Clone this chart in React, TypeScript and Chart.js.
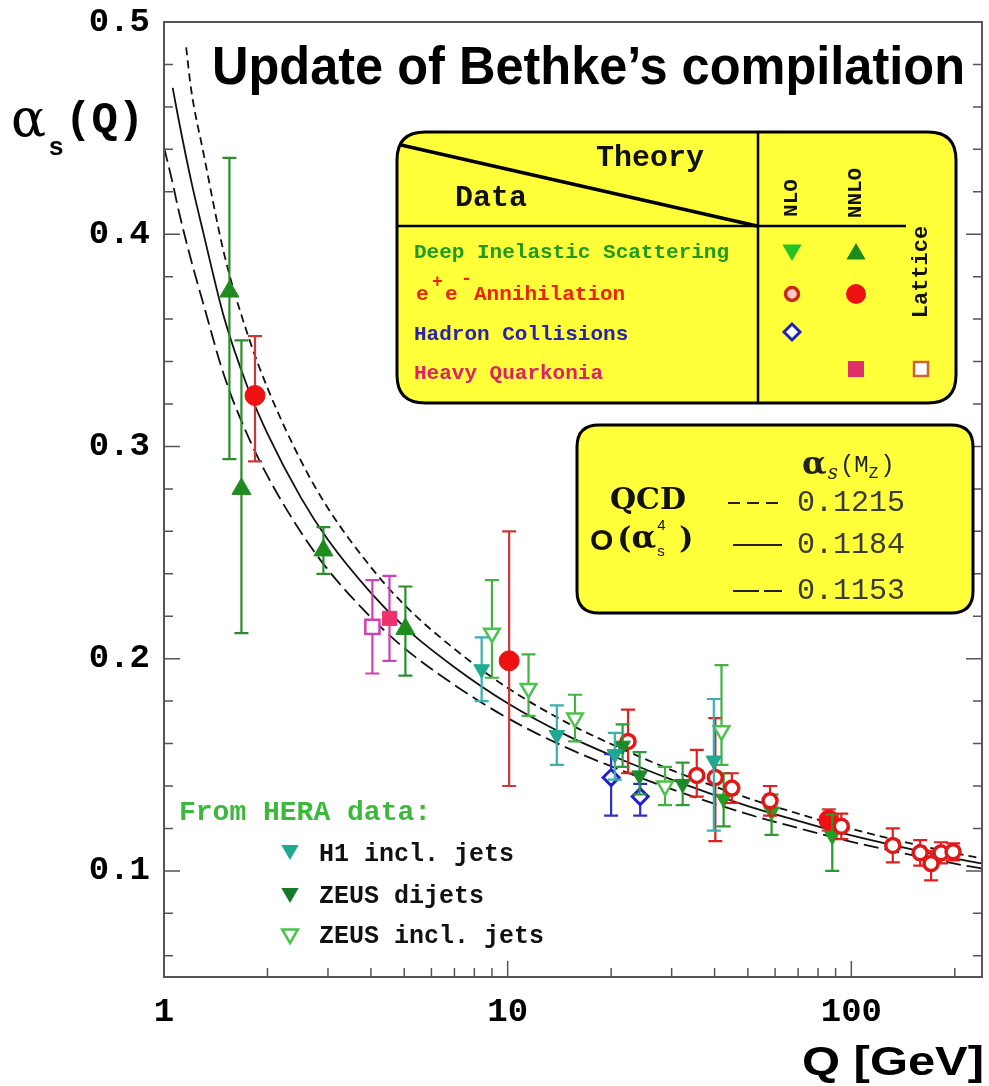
import React, { useEffect, useRef } from 'react';
import { Chart, registerables } from 'chart.js';

Chart.register(...registerables);

const W = 989;
const H = 1086;
const PLOT_TOP = 22;
const PLOT_BOTTOM = 977;
const PLOT_LEFT = 164;
const PLOT_RIGHT = 982;

// ---------- axes ----------
const X_MIN = 1;
const X_MAX = 240;
const Y_MIN = 0.05;
const Y_MAX = 0.5;
const X_TICK_VALUES = [1, 10, 100];
const X_TICK_LABELS = ['1', '10', '100'];
const Y_TICK_VALUES = [0.1, 0.2, 0.3, 0.4, 0.5];
const Y_TICK_LABELS = ['0.1', '0.2', '0.3', '0.4', '0.5'];

// ---------- data (Q [GeV], alpha_s, +err, -err) ----------
const DIS_NNLO_Q = [1.55, 1.68, 2.91, 5.04];
const DIS_NNLO_A = [0.373, 0.28, 0.251, 0.214];
const DIS_NNLO_UP = [0.063, 0.07, 0.011, 0.02];
const DIS_NNLO_DN = [0.079, 0.068, 0.011, 0.022];

const DIS_NLO_Q = [42.5, 58.6, 88.0];
const DIS_NLO_A = [0.134, 0.128, 0.1165];
const DIS_NLO_UP = [0.012, 0.008, 0.01];
const DIS_NLO_DN = [0.013, 0.011, 0.0165];

const H1_Q = [8.4, 13.9, 20.5, 39.8];
const H1_A = [0.195, 0.164, 0.155, 0.152];
const H1_UP = [0.015, 0.014, 0.01, 0.029];
const H1_DN = [0.015, 0.014, 0.012, 0.033];

const ZEUS_DIJ_Q = [21.6, 24.2, 32.3];
const ZEUS_DIJ_A = [0.159, 0.145, 0.141];
const ZEUS_DIJ_UP = [0.01, 0.011, 0.01];
const ZEUS_DIJ_DN = [0.01, 0.009, 0.01];

const ZEUS_INC_Q = [9.0, 11.5, 15.7, 28.7, 41.9];
const ZEUS_INC_A = [0.212, 0.186, 0.172, 0.14, 0.166];
const ZEUS_INC_UP = [0.025, 0.016, 0.011, 0.009, 0.031];
const ZEUS_INC_DN = [0.021, 0.013, 0.011, 0.009, 0.016];

const EE_NNLO_Q = [1.84, 10.1, 86.0];
const EE_NNLO_A = [0.324, 0.199, 0.124];
const EE_NNLO_UP = [0.028, 0.061, 0.005];
const EE_NNLO_DN = [0.031, 0.059, 0.005];

const EE_NLO_Q = [22.4, 35.5, 40.2, 44.9, 58.0, 93.5, 132, 158.6, 170.6, 182.4, 197.7];
const EE_NLO_A = [0.161, 0.145, 0.144, 0.139, 0.133, 0.121, 0.112, 0.1085, 0.1035, 0.1085, 0.109];
const EE_NLO_UP = [0.015, 0.012, 0.028, 0.007, 0.007, 0.006, 0.008, 0.006, 0.006, 0.005, 0.004];
const EE_NLO_DN = [0.015, 0.01, 0.03, 0.007, 0.007, 0.006, 0.008, 0.006, 0.008, 0.005, 0.004];

const HADRON_Q = [20.0, 24.3];
const HADRON_A = [0.144, 0.135];
const HADRON_UP = [0.011, 0.006];
const HADRON_DN = [0.018, 0.009];

const HQ_NNLO_Q = [4.53];
const HQ_NNLO_A = [0.219];
const HQ_NNLO_UP = [0.02];
const HQ_NNLO_DN = [0.02];

const LATTICE_Q = [4.04];
const LATTICE_A = [0.215];
const LATTICE_UP = [0.022];
const LATTICE_DN = [0.022];

// ---------- QCD curves ----------
const CURVE_HI_Q = [1.16, 1.2, 1.3, 1.5, 1.75, 2, 2.5, 3, 4, 5, 7, 10, 15, 20, 30, 50, 70, 91.2, 130, 200, 240];
const CURVE_HI_A = [0.488, 0.468, 0.439, 0.39, 0.353, 0.3276, 0.2934, 0.2709, 0.2431, 0.2254, 0.2046, 0.1862, 0.1695, 0.1598, 0.1475, 0.1343, 0.127, 0.1215, 0.1152, 0.1084, 0.1059];
const CURVE_MID_Q = [1.06, 1.1, 1.2, 1.3, 1.5, 1.75, 2, 2.5, 3, 4, 5, 7, 10, 15, 20, 30, 50, 70, 91.2, 130, 200, 240];
const CURVE_MID_A = [0.469, 0.455, 0.425, 0.401, 0.36, 0.328, 0.306, 0.276, 0.256, 0.231, 0.215, 0.196, 0.179, 0.1635, 0.1545, 0.143, 0.1305, 0.1236, 0.1184, 0.1124, 0.1059, 0.1035];
const CURVE_LO_Q = [1.0, 1.06, 1.1, 1.2, 1.3, 1.5, 1.75, 2, 2.5, 3, 4, 5, 7, 10, 15, 20, 30, 50, 70, 91.2, 130, 200, 240];
const CURVE_LO_A = [0.441, 0.424, 0.412, 0.3876, 0.3675, 0.3328, 0.3053, 0.2861, 0.2597, 0.2419, 0.2195, 0.205, 0.1876, 0.172, 0.1577, 0.1493, 0.1385, 0.1267, 0.1202, 0.1153, 0.1096, 0.1034, 0.1011];
const CURVE_LABELS = ['0.1215', '0.1184', '0.1153'];

// ---------- fonts / colours ----------
const MONO = '"Liberation Mono", "DejaVu Sans Mono", monospace';
const SANS = '"Liberation Sans", Arial, sans-serif';
const SERIF = '"DejaVu Serif", "Liberation Serif", serif';
const YELLOW = '#ffff3a';

const pts = (q: number[], a: number[]) => q.map((x, i) => ({ x, y: a[i] }));

type Style = { shape: string; rot: number; r: number; fill: string; stroke: string; bw: number; err: string };

function markerDs(label: string, q: number[], a: number[], up: number[], dn: number[], s: Style) {
  return {
    label,
    data: pts(q, a),
    errUp: up,
    errDn: dn,
    errColor: s.err,
    showLine: false,
    pointStyle: s.shape,
    pointRotation: s.rot,
    pointRadius: s.r,
    pointBackgroundColor: s.fill,
    pointBorderColor: s.stroke,
    pointBorderWidth: s.bw,
    clip: false,
    order: 1,
  };
}

function curveDs(label: string, q: number[], a: number[], dash: number[]) {
  return {
    label,
    data: pts(q, a),
    showLine: true,
    pointRadius: 0,
    borderColor: '#111',
    borderWidth: 1.8,
    borderDash: dash,
    cubicInterpolationMode: 'monotone',
    fill: false,
    order: 5,
  };
}

// force the exact plot rectangle of the reference
const areaPlugin = {
  id: 'area',
  afterLayout(chart: any) {
    const ca = chart.chartArea;
    const ys = chart.scales.y;
    if (Math.abs(ca.top - PLOT_TOP) > 0.5) {
      ca.top = PLOT_TOP;
      ca.height = ca.bottom - ca.top;
      ys.top = PLOT_TOP;
      ys.height = ys.bottom - ys.top;
      ys._labelItems = null;
      ys.configure();
    }
  },
};

const errorBarPlugin = {
  id: 'errbars',
  beforeDatasetDraw(chart: any, args: any) {
    const ds = chart.data.datasets[args.index];
    if (!ds.errUp) return;
    const { ctx } = chart;
    const xs = chart.scales.x;
    const ys = chart.scales.y;
    ctx.save();
    ctx.strokeStyle = ds.errColor;
    ctx.lineWidth = 2.2;
    ds.data.forEach((p: any, i: number) => {
      const px = xs.getPixelForValue(p.x);
      const top = ys.getPixelForValue(p.y + ds.errUp[i]);
      const bot = ys.getPixelForValue(p.y - ds.errDn[i]);
      ctx.beginPath();
      ctx.moveTo(px, top);
      ctx.lineTo(px, bot);
      ctx.moveTo(px - 7, top);
      ctx.lineTo(px + 7, top);
      ctx.moveTo(px - 7, bot);
      ctx.lineTo(px + 7, bot);
      ctx.stroke();
    });
    ctx.restore();
  },
};

function text(ctx: CanvasRenderingContext2D, s: string, x: number, y: number, font: string, color: string,
  align: CanvasTextAlign = 'left', base: CanvasTextBaseline = 'middle') {
  ctx.font = font;
  ctx.fillStyle = color;
  ctx.textAlign = align;
  ctx.textBaseline = base;
  ctx.fillText(s, x, y);
  return ctx.measureText(s).width;
}

function rtext(ctx: CanvasRenderingContext2D, s: string, x: number, y: number, font: string, color: string) {
  ctx.save();
  ctx.translate(x, y);
  ctx.rotate(-Math.PI / 2);
  text(ctx, s, 0, 0, font, color, 'center');
  ctx.restore();
}

function marker(ctx: CanvasRenderingContext2D, shape: string, x: number, y: number, s: number,
  fill: string | null, stroke: string | null, lw = 2) {
  ctx.beginPath();
  if (shape === 'up') {
    ctx.moveTo(x, y - s);
    ctx.lineTo(x + s * 0.87, y + s * 0.5);
    ctx.lineTo(x - s * 0.87, y + s * 0.5);
    ctx.closePath();
  } else if (shape === 'down') {
    ctx.moveTo(x, y + s);
    ctx.lineTo(x + s * 0.87, y - s * 0.5);
    ctx.lineTo(x - s * 0.87, y - s * 0.5);
    ctx.closePath();
  } else if (shape === 'circle') {
    ctx.arc(x, y, s, 0, Math.PI * 2);
  } else if (shape === 'square') {
    ctx.rect(x - s, y - s, 2 * s, 2 * s);
  } else if (shape === 'diamond') {
    ctx.moveTo(x, y - s);
    ctx.lineTo(x + s, y);
    ctx.lineTo(x, y + s);
    ctx.lineTo(x - s, y);
    ctx.closePath();
  }
  if (fill) { ctx.fillStyle = fill; ctx.fill(); }
  if (stroke) { ctx.strokeStyle = stroke; ctx.lineWidth = lw; ctx.stroke(); }
}

function roundBox(ctx: CanvasRenderingContext2D, x: number, y: number, w: number, h: number, r: number) {
  ctx.beginPath();
  ctx.moveTo(x + r, y);
  ctx.lineTo(x + w - r, y);
  ctx.quadraticCurveTo(x + w, y, x + w, y + r);
  ctx.lineTo(x + w, y + h - r);
  ctx.quadraticCurveTo(x + w, y + h, x + w - r, y + h);
  ctx.lineTo(x + r, y + h);
  ctx.quadraticCurveTo(x, y + h, x, y + h - r);
  ctx.lineTo(x, y + r);
  ctx.quadraticCurveTo(x, y, x + r, y);
  ctx.closePath();
  ctx.fillStyle = YELLOW;
  ctx.fill();
  ctx.strokeStyle = '#000';
  ctx.lineWidth = 3;
  ctx.stroke();
}

const decorPlugin = {
  id: 'decor',
  afterDraw(chart: any) {
    const ctx: CanvasRenderingContext2D = chart.ctx;
    const ca = chart.chartArea;
    const xs = chart.scales.x;
    const ys = chart.scales.y;
    ctx.save();

    // frame
    ctx.strokeStyle = '#555';
    ctx.lineWidth = 2;
    ctx.strokeRect(ca.left, ca.top, ca.right - ca.left, ca.bottom - ca.top);

    // y ticks (inside, both sides)
    ctx.lineWidth = 1.5;
    for (let k = 3; k <= 25; k++) {
      const v = k * 0.02;
      const major = k % 5 === 0;
      const len = major ? 16 : 9;
      const py = ys.getPixelForValue(v);
      ctx.beginPath();
      ctx.moveTo(ca.left, py);
      ctx.lineTo(ca.left + len, py);
      ctx.moveTo(ca.right, py);
      ctx.lineTo(ca.right - len, py);
      ctx.stroke();
    }
    // x ticks
    for (const d of [1, 10, 100]) {
      for (let m = 1; m <= 9; m++) {
        const v = m * d;
        if (v > X_MAX) break;
        const len = m === 1 ? 16 : 9;
        const px = xs.getPixelForValue(v);
        ctx.beginPath();
        ctx.moveTo(px, ca.bottom);
        ctx.lineTo(px, ca.bottom - len);
        ctx.stroke();
      }
    }

    // title
    const title = 'Update of Bethke\u2019s compilation';
    ctx.font = `bold 54px ${SANS}`;
    const tw = ctx.measureText(title).width;
    ctx.save();
    ctx.translate(212, 84);
    ctx.scale(753 / tw, 1);
    text(ctx, title, 0, 0, `bold 54px ${SANS}`, '#000', 'left', 'alphabetic');
    ctx.restore();

    // y label alpha_s(Q)
    text(ctx, '\u03b1', 11, 122, `52px ${SERIF}`, '#000');
    text(ctx, 's', 49, 148, `bold 26px ${SANS}`, '#000');
    text(ctx, '(Q)', 65, 121, `bold 44px ${MONO}`, '#000');

    // x label
    ctx.font = `bold 40px ${SANS}`;
    const xl = 'Q [GeV]';
    const xw = ctx.measureText(xl).width;
    ctx.save();
    ctx.translate(984, 1064);
    ctx.scale(182 / xw, 1);
    text(ctx, xl, 0, 0, `bold 40px ${SANS}`, '#000', 'right');
    ctx.restore();

    // ---------- legend box 1 ----------
    roundBox(ctx, 397, 132, 559, 271, 28);
    ctx.strokeStyle = '#000';
    ctx.lineWidth = 2.5;
    ctx.beginPath();
    ctx.moveTo(758, 132); ctx.lineTo(758, 403);
    ctx.moveTo(398, 226); ctx.lineTo(906, 226);
    ctx.stroke();
    ctx.lineWidth = 3.5;
    ctx.beginPath();
    ctx.moveTo(401, 145); ctx.lineTo(757, 226);
    ctx.stroke();
    text(ctx, 'Theory', 596, 158, `bold 30px ${MONO}`, '#111');
    text(ctx, 'Data', 455, 198, `bold 30px ${MONO}`, '#111');
    rtext(ctx, 'NLO', 792, 198, `bold 21px ${MONO}`, '#111');
    rtext(ctx, 'NNLO', 856, 193, `bold 21px ${MONO}`, '#111');
    rtext(ctx, 'Lattice', 921, 272, `bold 22px ${MONO}`, '#111');
    const F = `bold 21px ${MONO}`;
    text(ctx, 'Deep Inelastic Scattering', 414, 253, F, '#1e9a1e');
    const RED = '#ee2200';
    text(ctx, 'e', 416, 295, F, RED);
    text(ctx, '+', 432, 282, `bold 18px ${MONO}`, RED);
    text(ctx, 'e', 445, 295, F, RED);
    text(ctx, '-', 461, 279, `bold 18px ${MONO}`, RED);
    text(ctx, 'Annihilation', 474, 295, F, RED);
    text(ctx, 'Hadron Collisions', 414, 335, F, '#2a22aa');
    text(ctx, 'Heavy Quarkonia', 414, 374, F, '#dd2266');
    marker(ctx, 'down', 792, 250, 11, '#22c322', null);
    marker(ctx, 'up', 856, 254, 11, '#1a8a1a', null);
    marker(ctx, 'circle', 792, 294, 6.5, '#ffc8c8', '#cc2a10', 3.5);
    marker(ctx, 'circle', 856, 294, 10, '#ee1111', null);
    marker(ctx, 'diamond', 792, 332, 8, '#ffffff', '#2222bb', 3);
    marker(ctx, 'square', 856, 369, 8, '#e0306a', null);
    marker(ctx, 'square', 921, 369, 7, '#ffffff', '#d06030', 2.5);

    // ---------- legend box 2 ----------
    roundBox(ctx, 577, 425, 396, 188, 22);
    let ax = 802;
    ax += text(ctx, '\u03b1', ax, 466, `bold 32px ${SERIF}`, '#222');
    ax += text(ctx, 's', ax + 1, 474, `italic 20px ${SERIF}`, '#222') + 3;
    ax += text(ctx, '(M', ax, 466, `24px ${MONO}`, '#222');
    ax += text(ctx, 'Z', ax, 474, `16px ${MONO}`, '#222') + 2;
    text(ctx, ')', ax, 466, `24px ${MONO}`, '#222');

    text(ctx, 'QCD', 648, 501, `bold 30px ${SERIF}`, '#111', 'center');
    let ox = 590;
    ox += text(ctx, 'O', ox, 542, `bold 30px ${SANS}`, '#111') + 4;
    ox += text(ctx, '(', ox, 540, `bold 30px ${SERIF}`, '#111');
    const aw = text(ctx, '\u03b1', ox, 540, `bold 32px ${SERIF}`, '#111');
    ox += aw + 1;
    text(ctx, '4', ox, 526, `15px ${SANS}`, '#111');
    text(ctx, 's', ox, 552, `15px ${SANS}`, '#111');
    ox += 22;
    text(ctx, ')', ox, 540, `bold 30px ${SERIF}`, '#111');

    const rowsY = [503, 545, 591];
    const dashes = [[12, 7], [], [26, 5]];
    ctx.strokeStyle = '#222';
    ctx.lineWidth = 2;
    rowsY.forEach((yy, i) => {
      ctx.setLineDash(dashes[i]);
      ctx.beginPath();
      ctx.moveTo(i === 0 ? 728 : 733, yy);
      ctx.lineTo(782, yy);
      ctx.stroke();
      ctx.setLineDash([]);
      text(ctx, CURVE_LABELS[i], 797, yy, `30px ${MONO}`, '#3a3a30');
    });

    // ---------- HERA legend ----------
    text(ctx, 'From HERA data:', 179, 813, `bold 28px ${MONO}`, '#3cb83c');
    marker(ctx, 'down', 290, 850, 10, '#20a890', null);
    marker(ctx, 'down', 290, 893, 10, '#157a2a', null);
    marker(ctx, 'down', 290, 934, 9, '#ffffff', '#4cc34c', 2.5);
    const FH = `bold 25px ${MONO}`;
    text(ctx, 'H1 incl. jets', 319, 855, FH, '#111');
    text(ctx, 'ZEUS dijets', 319, 897, FH, '#111');
    text(ctx, 'ZEUS incl. jets', 319, 937, FH, '#111');

    ctx.restore();
  },
};

function buildConfig(): any {
  const datasets: any[] = [
    curveDs('alpha_s(MZ)=0.1215', CURVE_HI_Q, CURVE_HI_A, [8, 5]),
    curveDs('alpha_s(MZ)=0.1184', CURVE_MID_Q, CURVE_MID_A, []),
    curveDs('alpha_s(MZ)=0.1153', CURVE_LO_Q, CURVE_LO_A, [15, 6]),
    markerDs('Heavy Quarkonia (lattice)', LATTICE_Q, LATTICE_A, LATTICE_UP, LATTICE_DN,
      { shape: 'rect', rot: 0, r: 10, fill: '#ffffff', stroke: '#d040b0', bw: 2.5, err: '#d040b0' }),
    markerDs('Heavy Quarkonia NNLO', HQ_NNLO_Q, HQ_NNLO_A, HQ_NNLO_UP, HQ_NNLO_DN,
      { shape: 'rect', rot: 0, r: 10, fill: '#f0306c', stroke: '#f0306c', bw: 1, err: '#d040b0' }),
    markerDs('DIS NNLO', DIS_NNLO_Q, DIS_NNLO_A, DIS_NNLO_UP, DIS_NNLO_DN,
      { shape: 'triangle', rot: 0, r: 11, fill: '#1f8c1f', stroke: '#1f8c1f', bw: 1, err: '#2e8b2e' }),
    markerDs('H1 incl. jets', H1_Q, H1_A, H1_UP, H1_DN,
      { shape: 'triangle', rot: 180, r: 9, fill: '#20a890', stroke: '#20a890', bw: 1, err: '#3ab0b0' }),
    markerDs('ZEUS incl. jets', ZEUS_INC_Q, ZEUS_INC_A, ZEUS_INC_UP, ZEUS_INC_DN,
      { shape: 'triangle', rot: 180, r: 9, fill: '#ffffff', stroke: '#4cc34c', bw: 2.5, err: '#45b045' }),
    markerDs('ZEUS dijets', ZEUS_DIJ_Q, ZEUS_DIJ_A, ZEUS_DIJ_UP, ZEUS_DIJ_DN,
      { shape: 'triangle', rot: 180, r: 9, fill: '#1a8a2a', stroke: '#1a8a2a', bw: 1, err: '#2e9a3a' }),
    markerDs('Hadron Collisions', HADRON_Q, HADRON_A, HADRON_UP, HADRON_DN,
      { shape: 'rectRot', rot: 0, r: 8, fill: '#ffffff', stroke: '#2222cc', bw: 3, err: '#3030c0' }),
    markerDs('e+e- NLO', EE_NLO_Q, EE_NLO_A, EE_NLO_UP, EE_NLO_DN,
      { shape: 'circle', rot: 0, r: 7, fill: '#ffffff', stroke: '#e01818', bw: 3.5, err: '#e02020' }),
    markerDs('DIS NLO', DIS_NLO_Q, DIS_NLO_A, DIS_NLO_UP, DIS_NLO_DN,
      { shape: 'triangle', rot: 180, r: 9, fill: '#22a022', stroke: '#22a022', bw: 1, err: '#2a9a2a' }),
    markerDs('e+e- NNLO', EE_NNLO_Q, EE_NNLO_A, EE_NNLO_UP, EE_NNLO_DN,
      { shape: 'circle', rot: 0, r: 10, fill: '#ee1111', stroke: '#ee1111', bw: 1, err: '#c83a3a' }),
  ];

  const tickFont = { family: MONO, size: 34, weight: 'bold', lineHeight: 1 };

  return {
    type: 'scatter',
    data: { datasets },
    options: {
      animation: false,
      responsive: false,
      maintainAspectRatio: false,
      devicePixelRatio: 1,
      layout: { autoPadding: false, padding: { left: 0, right: W - PLOT_RIGHT, top: PLOT_TOP, bottom: 0 } },
      plugins: { legend: { display: false }, tooltip: { enabled: false } },
      scales: {
        x: {
          type: 'logarithmic',
          min: X_MIN,
          max: X_MAX,
          afterBuildTicks: (s: any) => { s.ticks = X_TICK_VALUES.map((v) => ({ value: v })); },
          afterFit: (s: any) => { s.height = H - PLOT_BOTTOM; },
          ticks: {
            callback: (v: any) => {
              const i = X_TICK_VALUES.indexOf(Number(v));
              return i >= 0 ? X_TICK_LABELS[i] : '';
            },
            font: tickFont,
            color: '#000',
            padding: 18,
            autoSkip: false,
            maxRotation: 0,
          },
          grid: { display: false, drawTicks: false },
          border: { display: false },
        },
        y: {
          type: 'linear',
          min: Y_MIN,
          max: Y_MAX,
          afterBuildTicks: (s: any) => { s.ticks = Y_TICK_VALUES.map((v) => ({ value: v })); },
          afterFit: (s: any) => { s.width = PLOT_LEFT; },
          ticks: {
            callback: (v: any) => {
              const i = Y_TICK_VALUES.findIndex((t) => Math.abs(t - Number(v)) < 1e-9);
              return i >= 0 ? Y_TICK_LABELS[i] : '';
            },
            font: tickFont,
            color: '#000',
            padding: 14,
          },
          grid: { display: false, drawTicks: false },
          border: { display: false },
        },
      },
    },
    plugins: [areaPlugin, errorBarPlugin, decorPlugin],
  };
}

export default function App() {
  const ref = useRef<HTMLCanvasElement>(null);
  useEffect(() => {
    const canvas = ref.current;
    if (!canvas) return;
    const chart = new Chart(canvas, buildConfig());
    return () => chart.destroy();
  }, []);
  return (
    <div style={{ position: 'absolute', left: 0, top: 0, width: W, height: H, background: '#fff' }}>
      <canvas ref={ref} width={W} height={H} style={{ width: W, height: H, display: 'block' }} />
    </div>
  );
}
